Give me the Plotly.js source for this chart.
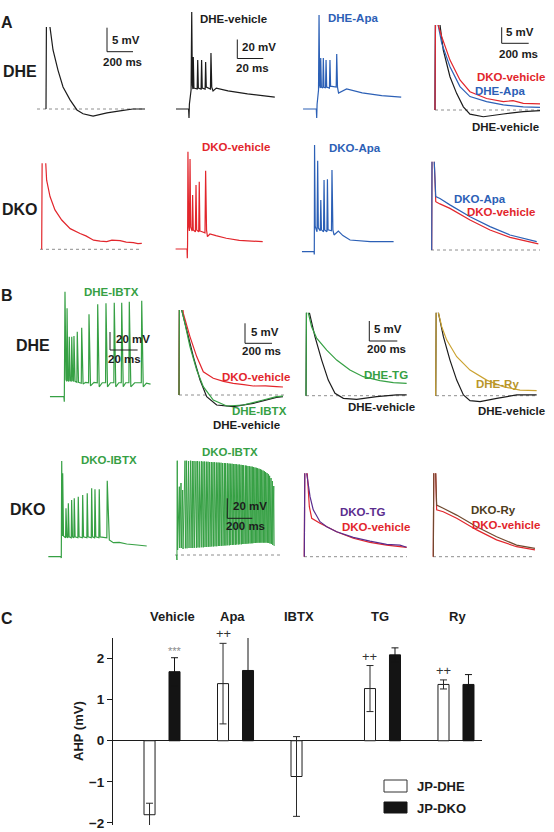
<!DOCTYPE html>
<html><head><meta charset="utf-8">
<script src="https://cdn.plot.ly/plotly-3.0.1.min.js"></script>
<style>html,body{margin:0;padding:0;background:#fff}#chart{width:554px;height:832px}</style>
</head><body><div id="chart"></div>
<script>
// ================= DATA (time in ms, membrane potential in mV) =================
// --- Panel A, DHE row ---
const dheAvgT = [0,4,30,54,92,131,185,238,285,362,469,569,669,762];
const dheAvgV = [0,22,17.2,12.3,8.1,4.6,1.9,-0.2,-1.0,-1.5,-0.8,-0.4,0,0];

const dheVehSpkT = [-10,-0.3,0,0.3,1.6,2.1,2.6,3.0,3.3,3.8,6.3,6.7,7.2,9.3,9.7,10.2,12.4,12.8,13.3,16.5,16.9,17.5,18.5,21,30,45,66];
const dheVehSpkV = [-65,-65,-74.5,-60,-45,37,-40,-44,-10.3,-43,-44,-13.4,-43,-44,-13.4,-43,-44,-15.5,-42,-44,-6.1,-42,-46,-43,-46,-49,-52.4];

const dheApaSpkT = [-10.5,-0.3,0,0.3,1.4,1.8,2.3,2.7,3.1,3.6,4.7,5.1,5.6,6.8,7.2,7.7,9.8,10.2,10.7,15.0,15.4,16.0,16.8,23,35,50,65];
const dheApaSpkV = [-65,-65,-74.5,-60,-45,34,-40,-43,-11.3,-42,-43,-11.3,-42,-43,-13.4,-42,-43,-13.4,-41,-42,-7.1,-42,-48.2,-43.9,-48,-51,-52.4];

const a4DheVehT = [0,4,37,61,111,160,210,259,358,506,654,778];
const a4DheVehV = [0,32,26.6,18.75,10.4,5.2,1.0,-1.3,-2.1,-1.25,-0.5,-0.2];
const a4DheApaT = [0,4,22,50,111,185,259,382,506,654,778];
const a4DheApaV = [0,32,26.8,20.8,13.5,7.3,4.2,2.6,1.6,1.0,0.8];
const a4DkoVehT = [0,4,22,50,111,185,259,382,506,578,654,778];
const a4DkoVehV = [0,32,26.8,22.9,15.6,9.4,5.7,3.6,2.6,2.9,2.1,1.9];

// --- Panel A, DKO row ---
const dkoAvgT = [0,4,31,38,64,102,154,219,295,340,399,450,500,540,603,650,705,740,770];
const dkoAvgV = [0,22,18.0,14.4,11.0,8.2,6.1,4.3,3.3,2.8,1.9,1.7,1.6,1.9,1.8,1.5,1.4,1.2,1.25];

const dkoVehSpkT = [-9,-0.2,0,0.2,0.5,1.0,1.6,2.1,2.6,3.7,4.1,4.6,6.2,6.7,7.2,8.8,9.2,9.7,13.6,14.1,14.8,15.5,17.4,22,30,40,58];
const dkoVehSpkV = [-65,-65,-74.8,-60,37.4,-40,-46,29.7,-42,-46,-8.2,-45,-47,2.4,-45,-47,5.8,-46,-48,17.4,-45,-52,-49.2,-51,-53.7,-56,-57.3];

const dkoApaSpkT = [-9.5,-0.2,0,0.2,0.7,1.5,2.1,2.6,3.1,4.6,5.0,5.5,7.1,7.5,8.0,9.7,10.1,10.6,13.2,13.6,14.3,15.2,18.5,22,27.5,43,61];
const dkoApaSpkV = [-65,-65,-68,47.3,-38,-42,-44,30.8,-40,-43,-10.6,-42,-44,10.5,-42,-44,11.2,-42,-43,21,-42,-47.4,-43.2,-48,-52.7,-54.5,-54.5];

const a8DkoApaT = [0,3,19,30,61,135,284,432,580,778];
const a8DkoApaV = [0,35,27.6,16.7,16.1,14.1,10.4,7.3,4.7,2.6];
const a8DkoVehT = [0,3,19,30,61,135,284,432,580,790];
const a8DkoVehV = [0,35,27.6,15.1,14.4,13.0,9.4,6.25,3.96,1.9];

// --- Panel B, DHE row ---
const dheIbtxSpkT = [-10.4,-0.3,0,0.5,1.2,1.7,2.0,2.6,3.3,3.6,4.3,5.1,5.4,6.1,6.7,7.0,7.8,9.1,9.4,10.3,12.3,12.6,13.6,15.5,17.6,17.9,19.0,21.5,23.9,24.2,25.3,27.5,29.9,30.2,31.3,33.5,35.9,36.2,37.3,39.5,41.3,41.6,42.7,44.5,46.8,47.1,48.2,51,55.8,56.1,57.2,59.5,62.5];
const dheIbtxSpkV = [-65,-65,-70.6,51.7,-46,-48,33.2,-47,-48,1.7,-47,-48,1.7,-47,-48,2.4,-48,-49,7.2,-49,-50,11.7,-51,-49,-49.5,26.6,-53,-49,-49.5,37.7,-54,-49.5,-49.5,38.8,-54,-49.5,-49.5,39.4,-54,-49.5,-49.5,39.4,-54,-49.5,-49.5,40.6,-54,-49.5,-49.5,41.7,-54,-50,-51];

const b2DheIbtxT = [0,4,20,44,81,131,180,254,353,476,624,722,770];
const b2DheIbtxV = [0,30,21.25,17.9,12.1,6.25,2.1,-1.25,-2.75,-2.5,-1.25,-0.4,-0.3];
const b2DheVehT = [0,4,20,57,106,156,205,279,402,550,722,770];
const b2DheVehV = [0,30,21.25,16.25,9.6,3.75,-0.4,-2.5,-2.9,-2.1,-0.6,-0.4];
const b2DkoVehT = [0,4,32,81,131,180,254,330,402,480,550,640,722,770];
const b2DkoVehV = [0,30,20.4,14.6,9.6,5.8,4.2,3.4,2.9,2.6,2.25,2.3,2.1,2.0];

const b3DheTgT = [0,4,16,40,76,148,219,314,409,529,624,719];
const b3DheTgV = [0,25,20.75,17.25,14.4,11.4,8.9,6.4,4.75,3.75,3.25,3.1];
const b3DheVehT = [0,4,24,64,112,159,207,267,362,505,648,719];
const b3DheVehV = [0,25,20.75,14.75,8.9,3.9,0.6,-0.65,-0.9,-0.25,0.2,0.2];

const b4DheRyT = [0,4,19,43,79,150,245,364,483,602,721];
const b4DheRyV = [0,25,20.75,17.25,13.9,9.75,6.4,3.9,2.25,1.4,1.25];
const b4DheVehT = [0,4,19,55,102,150,198,245,317,436,579,721];
const b4DheVehV = [0,25,20.75,14.75,8.9,3.9,0.2,-1.25,-1.5,-0.65,0.2,0.2];

// --- Panel B, DKO row ---
const dkoIbtxSpkT = [-9.4,-0.3,0,0.3,0.7,1.0,1.6,3.1,3.4,4.0,4.8,5.1,5.7,7.2,7.5,8.1,9.1,9.4,10.0,12.0,12.3,12.9,15.2,15.5,16.1,18.5,18.8,19.4,21.7,22.0,22.6,24.1,24.4,25.0,27.2,27.5,28.1,33.0,33.3,34.8,37.7,42,47.4,55,61.9];
const dkoIbtxSpkV = [-65,-65,-66.4,41.3,-42,27.7,-42,-44,-11.2,-43,-44,-5.7,-43,-44,-2.0,-43,-44,-0.1,-43,-44,1.7,-43,-44,3.6,-43,-44,5.4,-43,-44,11.0,-43,-44,9.9,-43,-44,9.9,-43,-44,19.4,-46.4,-49.4,-49,-50.9,-52,-53.1];

// long train (DKO-IBTX, 200 ms scale): pre-stimulus points, then spike times, peaks, following troughs
const longPreT = [-3,-0.5];
const longPreV = [-65,-70];
const longSpikeT = [2,18.7,32,45.3,
  64,77,93,109,123,136,152,165,179,195,
  208,221,235,248,261,275,288,301,315,328,
  339,352,365,379,389,403,416,427,440,451,
  464,475,488,499,512,523,533,547,557,568,
  581,592,603,613,624,635,645,656,667,677,
  688,699,709,720,731,741,752,763,774];
const longSpikePeak = [29.3,3.3,7,0,
  29.3,29.3,29,29.3,29,29,28.8,29,28.5,28.8,
  28.5,28.5,28.3,28.3,28,28,27.8,27.8,27.5,27.5,
  27.3,27.3,27,27,26.8,26.8,26.5,26.3,26.3,26,
  26,25.8,25.5,25.5,25.2,25,24.8,24.5,24.3,24,
  23.8,23.5,23.3,23,22.5,22.2,21.8,21.3,20.8,20.2,
  19.5,18.8,18,17,15.8,14.2,12,9,4];
const longSpikeTrough = [-60,-58,-58,-59,
  -58.3,-58.3,-58,-58,-58,-57.8,-57.8,-57.5,-57.5,-57.3,
  -57.3,-57,-57,-56.8,-56.8,-56.5,-56.5,-56.3,-56.3,-56,
  -56,-55.8,-55.8,-55.5,-55.5,-55.3,-55.3,-55,-55,-54.8,
  -54.8,-54.5,-54.5,-54.3,-54.3,-54,-54,-53.8,-53.8,-53.5,
  -53.5,-53.3,-53.3,-53,-53,-52.8,-52.8,-52.7,-52.7,-52.7,
  -52.7,-52.7,-52.7,-52.8,-53,-53.5,-54,-55,-56];

const b7DkoTgT = [0,4,17,41,64,112,160,231,350,469,588,683,731];
const b7DkoTgV = [0,25,20.85,15,11.7,8.75,7.5,6.25,4.85,3.9,3.1,2.9,2.35];
const b7DkoVehT = [0,4,21,36,53,112,231,350,469,588,731];
const b7DkoVehV = [0,25,20.85,12.5,9.6,8.35,6.25,4.6,3.6,2.9,2.35];

const b8DkoRyT = [0,4,17,24,71,167,310,452,595,726];
const b8DkoRyV = [0,25,20.85,12.9,12.1,10.4,7.5,5,2.9,2.1];
const b8DkoVehT = [0,4,17,24,71,167,310,452,595,726];
const b8DkoVehV = [0,25,20.85,11.7,11.25,9.6,6.7,4.2,2.5,1.7];

// --- Panel C: AHP (mV) ---
const groups = ['Vehicle','Apa','IBTX','TG','Ry'];
const dheMean = [-1.8,1.39,-0.87,1.27,1.37];
const dheErr  = [0.28,0.98,0.97,0.56,0.11];
const dkoMean = [1.68,1.71,null,2.09,1.37];
const dkoErr  = [0.34,0.97,null,0.17,0.24];
const sigMarks = [
  {series:'dko', group:'Vehicle', text:'***'},
  {series:'dhe', group:'Apa', text:'++'},
  {series:'dhe', group:'TG', text:'++'},
  {series:'dhe', group:'Ry', text:'++'}
];
const yTicks = [-2,-1,0,1,2];

// ================= LAYOUT / STYLE =================
const W=554, H=832;
const FONT='"Liberation Sans", Arial, Helvetica, sans-serif';
const C={black:'#1c1c1c',red:'#e2262c',blue:'#2c60b6',green:'#36a044',purple:'#5b2d8e',gold:'#cba333',brown:'#70492f',goldText:'#b8952a',brownText:'#4e3d1c'};

const panels = {
 A1:{box:[36,147,27,120], t0:46, rest:109, sx:0.13, sy:4.8, v0:0, base:[37,145]},
 A2:{box:[170,280,10,122], t0:189, rest:109, sx:1.3, sy:0.95, v0:-65},
 A3:{box:[298,410,10,122], t0:316.7, rest:109, sx:1.3, sy:0.95, v0:-65},
 A4:{box:[430,545,25,120], t0:435, rest:110, sx:0.135, sy:3.2, v0:0, base:[435,542]},
 A5:{box:[36,147,163.3,253], t0:41.7, rest:249.3, sx:0.13, sy:4.8, v0:0, base:[40,142]},
 A6:{box:[170,280,140,262], t0:187.3, rest:249, sx:1.3, sy:0.95, v0:-65},
 A7:{box:[298,410,140,262], t0:314.3, rest:251.7, sx:1.3, sy:0.95, v0:-65},
 A8:{box:[428,545,161.7,255], t0:431.7, rest:250, sx:0.135, sy:3.2, v0:0, base:[431,540]},
 B1:{box:[45,160,285,410], t0:64.3, rest:396.7, sx:1.38, sy:0.9, v0:-65},
 B2:{box:[175,292,310,412], t0:179, rest:395, sx:0.135, sy:4, v0:0, base:[179,285]},
 B3:{box:[302,412,312.7,410], t0:306, rest:395.7, sx:0.14, sy:4, v0:0, base:[306,407]},
 B4:{box:[430,542,312.7,410], t0:435.7, rest:395.7, sx:0.14, sy:4, v0:0, base:[436,537]},
 B5:{box:[45,160,455,565], t0:61.3, rest:556.7, sx:1.38, sy:0.9, v0:-65},
 B6:{box:[172,285,455,565], t0:177, rest:555, sx:0.125, sy:1.0, v0:-65, base:[175,282]},
 B7:{box:[300,412,473.3,565], t0:304.3, rest:556.7, sx:0.14, sy:4, v0:0, base:[304,407]},
 B8:{box:[428,540,473.3,565], t0:433.3, rest:556.7, sx:0.14, sy:4, v0:0, base:[433,535]}
};
const px2t=(p,px)=>(px-p.t0)/p.sx;
const py2v=(p,py)=>p.v0+(p.rest-py)/p.sy;

const layout={width:W,height:H,margin:{l:0,r:0,t:0,b:0,pad:0},autosize:false,
  paper_bgcolor:'#ffffff',plot_bgcolor:'rgba(0,0,0,0)',showlegend:false,
  font:{family:FONT,color:'#1c1c1c'},shapes:[],annotations:[]};
const order=['A1','A2','A3','A4','A5','A6','A7','A8','B1','B2','B3','B4','B5','B6','B7','B8'];
order.forEach((k,i)=>{
  const p=panels[k], n=i+1, sfx=(n===1?'':String(n)), [l,r,t,b]=p.box;
  p.xa='x'+sfx; p.ya='y'+sfx;
  layout['xaxis'+sfx]={domain:[l/W,r/W],range:[px2t(p,l),px2t(p,r)],visible:false,fixedrange:true,anchor:p.ya};
  layout['yaxis'+sfx]={domain:[1-b/H,1-t/H],range:[py2v(p,b),py2v(p,t)],visible:false,fixedrange:true,anchor:p.xa};
  if(p.base) layout.shapes.push({type:'line',xref:p.xa,yref:p.ya,x0:px2t(p,p.base[0]),x1:px2t(p,p.base[1]),y0:p.v0,y1:p.v0,
    line:{color:'#8e8e8e',width:1,dash:'3px,3px'},layer:'below'});
});

// build long spike train from its arrays
const longT=[...longPreT], longV=[...longPreV];
longSpikeT.forEach((t,i)=>{ longT.push(t, t+3); longV.push(longSpikePeak[i], longSpikeTrough[i]); });

const spec=[
 ['A1',dheAvgT,dheAvgV,C.black],
 ['A2',dheVehSpkT,dheVehSpkV,C.black],
 ['A3',dheApaSpkT,dheApaSpkV,C.blue],
 ['A4',a4DheVehT,a4DheVehV,C.black],
 ['A4',a4DheApaT,a4DheApaV,C.blue],
 ['A4',a4DkoVehT,a4DkoVehV,C.red],
 ['A5',dkoAvgT,dkoAvgV,C.red],
 ['A6',dkoVehSpkT,dkoVehSpkV,C.red],
 ['A7',dkoApaSpkT,dkoApaSpkV,C.blue],
 ['A8',a8DkoVehT,a8DkoVehV,C.red],
 ['A8',a8DkoApaT,a8DkoApaV,C.blue],
 ['B1',dheIbtxSpkT,dheIbtxSpkV,C.green],
 ['B2',b2DheVehT,b2DheVehV,C.black],
 ['B2',b2DkoVehT,b2DkoVehV,C.red],
 ['B2',b2DheIbtxT,b2DheIbtxV,C.green],
 ['B3',b3DheVehT,b3DheVehV,C.black],
 ['B3',b3DheTgT,b3DheTgV,C.green],
 ['B4',b4DheVehT,b4DheVehV,C.black],
 ['B4',b4DheRyT,b4DheRyV,C.gold],
 ['B5',dkoIbtxSpkT,dkoIbtxSpkV,C.green],
 ['B6',longT,longV,C.green],
 ['B7',b7DkoVehT,b7DkoVehV,C.red],
 ['B7',b7DkoTgT,b7DkoTgV,C.purple],
 ['B8',b8DkoVehT,b8DkoVehV,C.red],
 ['B8',b8DkoRyT,b8DkoRyV,C.brown]
];
const data=spec.map(([k,x,y,c])=>({type:'scatter',mode:'lines',x:x,y:y,xaxis:panels[k].xa,yaxis:panels[k].ya,
  line:{color:c,width:(k==='B6'?1:1.2),simplify:false},hoverinfo:'skip',showlegend:false}));

// scale bars
const bars=[
 {p:'A1',c:[107,51.7],dt:200,dv:5,a:'5 mV',la:[111,39.7],b:'200 ms',lb:[122.8,62.5]},
 {p:'A2',c:[237.3,58.5],dt:20,dv:20,a:'20 mV',la:[240.5,46.7],b:'20 ms',lb:[252.7,68.3]},
 {p:'A4',c:[501.7,43.3],dt:200,dv:5,a:'5 mV',la:[505,32],b:'200 ms',lb:[518,53.8]},
 {p:'B1',c:[110,350],dt:20,dv:20,a:'20 mV',la:[115,339],b:'20 ms',lb:[125,359]},
 {p:'B2',c:[245,343.3],dt:200,dv:5,a:'5 mV',la:[249.5,331.7],b:'200 ms',lb:[261,351.3]},
 {p:'B3',c:[369.3,341],dt:200,dv:5,a:'5 mV',la:[373.3,329],b:'200 ms',lb:[386.7,349]},
 {p:'B6',c:[227.3,518.3],dt:200,dv:20,a:'20 mV',la:[232,506],b:'200 ms',lb:[245.5,526]}
];
function ann(text,cx,cy,color,size,xanchor){
  return {text:text,x:cx/W,y:1-cy/H,xref:'paper',yref:'paper',xanchor:xanchor||'center',yanchor:'middle',
    showarrow:false,borderpad:0,font:{family:FONT,size:size,color:color}};
}
bars.forEach(s=>{
  const p=panels[s.p], tc=px2t(p,s.c[0]), vc=py2v(p,s.c[1]);
  layout.shapes.push({type:'line',xref:p.xa,yref:p.ya,x0:tc,x1:tc,y0:vc,y1:vc+s.dv,line:{color:'#1c1c1c',width:1}});
  layout.shapes.push({type:'line',xref:p.xa,yref:p.ya,x0:tc,x1:tc+s.dt,y0:vc,y1:vc,line:{color:'#1c1c1c',width:1}});
  layout.annotations.push(ann('<b>'+s.a+'</b>',s.la[0],s.la[1],'#1c1c1c',11.5,'left'));
  layout.annotations.push(ann('<b>'+s.b+'</b>',s.lb[0],s.lb[1],'#1c1c1c',11.5));
});

// text labels
const LS=11.5;
const labels=[
 ['A',7,22,'#1c1c1c',16],['B',7,295.5,'#1c1c1c',16],['C',7,618,'#1c1c1c',16],
 ['DHE',20,71.7,'#1c1c1c',16],['DKO',20,209,'#1c1c1c',16],['DHE',33,345,'#1c1c1c',16],['DKO',27.5,509.5,'#1c1c1c',16],
 ['DHE-vehicle',233,19,'#1c1c1c',LS],['DHE-Apa',353,17.5,C.blue,LS],
 ['DKO-vehicle',510.5,77,C.red,LS],['DHE-Apa',500,91,C.blue,LS],['DHE-vehicle',505,127,'#1c1c1c',LS],
 ['DKO-vehicle',236,146.7,C.red,LS],['DKO-Apa',354.7,148,C.blue,LS],
 ['DKO-Apa',479.5,198.5,C.blue,LS],['DKO-vehicle',501,212,C.red,LS],
 ['DHE-IBTX',111.7,292.3,C.green,LS],
 ['DKO-vehicle',255.5,376.7,C.red,LS],['DHE-IBTX',259.7,411,C.green,LS],['DHE-vehicle',246.3,424.5,'#1c1c1c',LS],
 ['DHE-TG',385.8,374.7,C.green,LS],['DHE-vehicle',381.7,407,'#1c1c1c',LS],
 ['DHE-Ry',497.8,384,C.goldText,LS],['DHE-vehicle',511.7,411.3,'#1c1c1c',LS],
 ['DKO-IBTX',109.3,459.7,C.green,LS],['DKO-IBTX',230,451.7,C.green,LS],
 ['DKO-TG',362,511.7,C.purple,LS],['DKO-vehicle',375.5,526.5,C.red,LS],
 ['DKO-Ry',493.3,510,C.brownText,LS],['DKO-vehicle',506.3,524.5,C.red,LS]
];
labels.forEach(([t,x,y,c,s])=>layout.annotations.push(ann('<b>'+t+'</b>',x,y,c,s)));

// ================= Panel C bar chart =================
const cx0=113, cx1=482, cyTop=638, cyBot=825;
layout.xaxis17={domain:[cx0/W,cx1/W],type:'category',categoryorder:'array',categoryarray:groups,range:[-0.667,4.354],
  showticklabels:false,showline:false,zeroline:false,showgrid:false,ticks:'',fixedrange:true,anchor:'y17'};
layout.yaxis17={domain:[1-cyBot/H,1-cyTop/H],range:[-2.05,2.5],tickvals:yTicks,ticks:'outside',ticklen:5,tickwidth:1,
  tickcolor:'#1c1c1c',showline:true,linecolor:'#1c1c1c',linewidth:1,zeroline:true,zerolinecolor:'#1c1c1c',zerolinewidth:1.2,
  showgrid:false,fixedrange:true,anchor:'x17',tickfont:{family:FONT,size:13.5,color:'#1c1c1c',weight:700}};
data.push({type:'bar',name:'JP-DHE',x:groups,y:dheMean,xaxis:'x17',yaxis:'y17',width:0.15,offset:-0.245,
  marker:{color:'#ffffff',line:{color:'#1c1c1c',width:1}},
  error_y:{type:'data',array:dheErr,visible:true,color:'#2a2a2a',thickness:1,width:3.5},hoverinfo:'skip'});
data.push({type:'bar',name:'JP-DKO',x:groups,y:dkoMean,xaxis:'x17',yaxis:'y17',width:0.15,offset:0.095,
  marker:{color:'#141414',line:{color:'#141414',width:1}},
  error_y:{type:'data',array:dkoErr,visible:true,color:'#141414',thickness:1,width:3.5},hoverinfo:'skip'});
layout.barmode='overlay';

// group labels
const groupLabelPx=[[172,616],[232.5,616],[299,616],[379.5,616],[457.5,616]];
groups.forEach((g,i)=>layout.annotations.push(ann('<b>'+g+'</b>',groupLabelPx[i][0],groupLabelPx[i][1],'#1c1c1c',13)));
// y title
layout.annotations.push({text:'<b>AHP (mV)</b>',x:78/W,y:1-731/H,xref:'paper',yref:'paper',xanchor:'center',yanchor:'middle',
  textangle:-90,showarrow:false,font:{family:FONT,size:13,color:'#1c1c1c'}});
// significance marks
sigMarks.forEach(m=>{
  const i=groups.indexOf(m.group);
  const top=(m.series==='dko')?dkoMean[i]+dkoErr[i]:dheMean[i]+dheErr[i];
  const sh=(m.series==='dko')?12.5:-12.5;
  layout.annotations.push({text:m.text,x:m.group,y:top,xref:'x17',yref:'y17',xshift:sh,yshift:(m.text==='***'?0:1),
    xanchor:'center',yanchor:'bottom',showarrow:false,borderpad:0,
    font:{family:FONT,size:(m.text==='***'?11:13),color:(m.text==='***'?'#8a8a8a':'#333333')}});
});
// legend (drawn)
layout.shapes.push({type:'rect',xref:'paper',yref:'paper',x0:384/W,x1:407/W,y0:1-792/H,y1:1-780/H,fillcolor:'#ffffff',line:{color:'#333',width:1}});
layout.shapes.push({type:'rect',xref:'paper',yref:'paper',x0:384/W,x1:407/W,y0:1-813/H,y1:1-802/H,fillcolor:'#141414',line:{color:'#141414',width:1}});
layout.annotations.push(ann('<b>JP-DHE</b>',416,786,'#1c1c1c',13,'left'));
layout.annotations.push(ann('<b>JP-DKO</b>',416,808,'#1c1c1c',13,'left'));

Plotly.newPlot('chart',data,layout,{displayModeBar:false,staticPlot:true});
</script></body></html>
